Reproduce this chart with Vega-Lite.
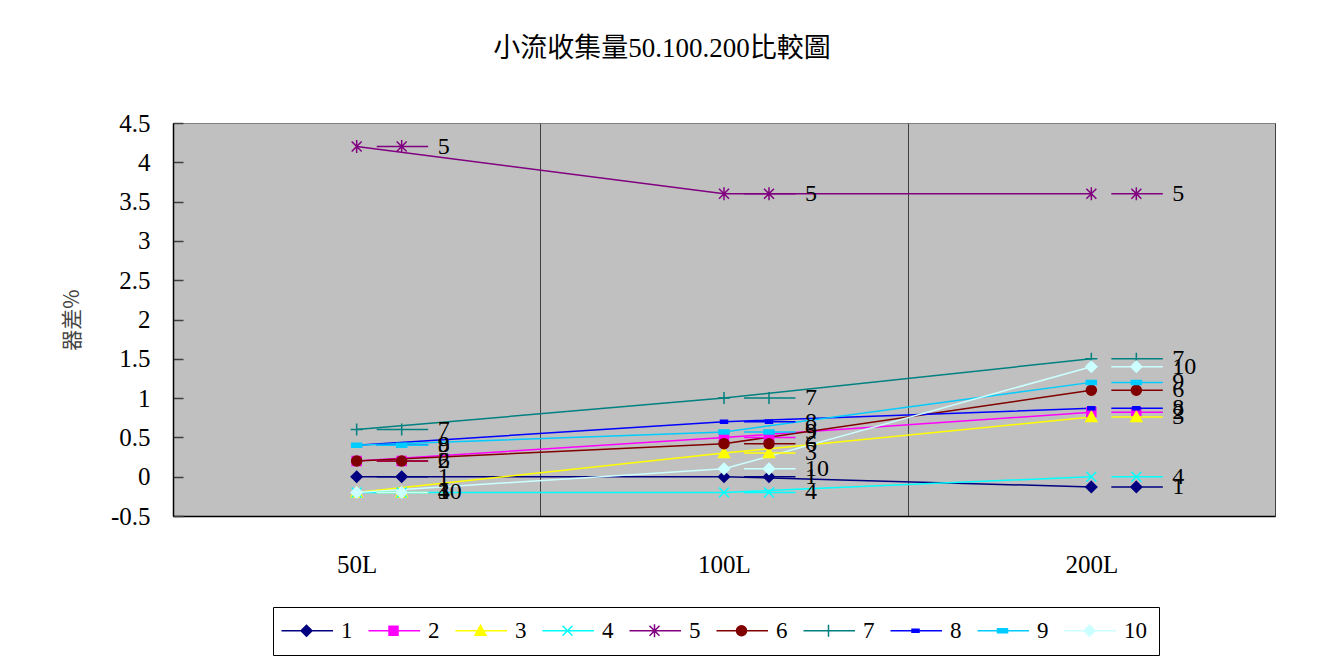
{
  "$schema": "https://vega.github.io/schema/vega-lite/v6.json",
  "width": 1102,
  "height": 393,
  "autosize": {"type": "none"},
  "padding": {"left": 173, "top": 123, "right": 48, "bottom": 147},
  "background": "white",
  "title": {
    "text": "小流收集量50.100.200比較圖",
    "font": "Liberation Serif, Noto Sans CJK TC",
    "fontSize": 27,
    "fontWeight": "normal",
    "color": "black",
    "anchor": "middle",
    "frame": "group",
    "dx": -62,
    "offset": 21,
    "baseline": "bottom"
  },
  "config": {
    "view": {"fill": "#C0C0C0", "stroke": "#808080", "strokeWidth": 1},
    "font": "Liberation Serif"
  },
  "data": {
    "values": [
      {"series": "1", "cat": "50L", "v": 0},
      {"series": "1", "cat": "100L", "v": 0},
      {"series": "1", "cat": "200L", "v": -0.13},
      {"series": "2", "cat": "50L", "v": 0.2},
      {"series": "2", "cat": "100L", "v": 0.5},
      {"series": "2", "cat": "200L", "v": 0.82},
      {"series": "3", "cat": "50L", "v": -0.2},
      {"series": "3", "cat": "100L", "v": 0.3},
      {"series": "3", "cat": "200L", "v": 0.76},
      {"series": "4", "cat": "50L", "v": -0.2},
      {"series": "4", "cat": "100L", "v": -0.2},
      {"series": "4", "cat": "200L", "v": 0},
      {"series": "5", "cat": "50L", "v": 4.2},
      {"series": "5", "cat": "100L", "v": 3.6},
      {"series": "5", "cat": "200L", "v": 3.6},
      {"series": "6", "cat": "50L", "v": 0.2},
      {"series": "6", "cat": "100L", "v": 0.42},
      {"series": "6", "cat": "200L", "v": 1.1},
      {"series": "7", "cat": "50L", "v": 0.6},
      {"series": "7", "cat": "100L", "v": 1.0},
      {"series": "7", "cat": "200L", "v": 1.5},
      {"series": "8", "cat": "50L", "v": 0.4},
      {"series": "8", "cat": "100L", "v": 0.7},
      {"series": "8", "cat": "200L", "v": 0.87},
      {"series": "9", "cat": "50L", "v": 0.4},
      {"series": "9", "cat": "100L", "v": 0.57},
      {"series": "9", "cat": "200L", "v": 1.2},
      {"series": "10", "cat": "50L", "v": -0.2},
      {"series": "10", "cat": "100L", "v": 0.1},
      {"series": "10", "cat": "200L", "v": 1.4}
    ]
  },
  "encoding": {
    "x": {
      "field": "cat",
      "type": "ordinal",
      "sort": ["50L", "100L", "200L"],
      "scale": {"type": "band", "paddingInner": 0, "paddingOuter": 0},
      "axis": {
        "title": null,
        "tickBand": "extent",
        "grid": true,
        "gridColor": "#404040",
        "gridWidth": 1,
        "ticks": false,
        "domainColor": "black",
        "domainWidth": 1.5,
        "labelFont": "Liberation Serif",
        "labelFontSize": 25,
        "labelColor": "black",
        "labelPadding": 36,
        "labelAngle": 0
      }
    },
    "y": {
      "field": "v",
      "type": "quantitative",
      "scale": {"domain": [-0.5, 4.5], "nice": false, "zero": false},
      "axis": {
        "values": [-0.5, 0, 0.5, 1, 1.5, 2, 2.5, 3, 3.5, 4, 4.5],
        "labelExpr": "'' + datum.value",
        "labelFont": "Liberation Serif",
        "labelFontSize": 25,
        "labelColor": "black",
        "labelPadding": 33,
        "tickSize": -10,
        "tickColor": "#404040",
        "tickWidth": 1.5,
        "domainColor": "black",
        "domainWidth": 1.5,
        "grid": false,
        "title": "器差%",
        "titleFont": "Noto Sans CJK TC",
        "titleFontSize": 21,
        "titleFontWeight": "normal",
        "titleColor": "#444444",
        "titleX": -101,
        "titleY": 196.5,
        "titleAlign": "center",
        "titleBaseline": "middle"
      }
    },
    "color": {
      "field": "series",
      "type": "nominal",
      "scale": {
        "domain": ["1", "2", "3", "4", "5", "6", "7", "8", "9", "10"],
        "range": ["#000080", "#FF00FF", "#FFFF00", "#00FFFF", "#800080", "#800000", "#008080", "#0000FF", "#00CCFF", "#CCFFFF"]
      },
      "legend": {
        "orient": "none",
        "legendX": 100,
        "legendY": 484,
        "direction": "horizontal",
        "columns": 10,
        "title": null,
        "padding": 12,
        "strokeColor": "black",
        "fillColor": "white",
        "symbolSize": 100,
        "symbolStrokeWidth": 1.5,
        "symbolOpacity": 1,
        "symbolOffset": 10,
        "labelOffset": 23,
        "columnPadding": 1,
        "gridAlign": "all",
        "labelFont": "Liberation Serif",
        "labelFontSize": 23,
        "labelColor": "black"
      }
    }
  },
  "layer": [
    {
      "mark": {"type": "line", "strokeWidth": 1.5},
      "encoding": {}
    },
    {
      "mark": {"type": "point", "filled": true, "size": 100, "opacity": 1, "strokeWidth": 1.5},
      "encoding": {
        "shape": {
          "condition": [
            {"test": "datum.series == '1' || datum.series == '10'", "value": "M0,-1.1L1.1,0L0,1.1L-1.1,0Z"},
            {"test": "datum.series == '2'", "value": "M-0.9,-0.9L0.9,-0.9L0.9,0.9L-0.9,0.9Z"},
            {"test": "datum.series == '3'", "value": "M0,-1.1L1.1,0.9L-1.1,0.9Z"},
            {"test": "datum.series == '4'", "value": "M-1,-1L1,1M-1,1L1,-1"},
            {"test": "datum.series == '5'", "value": "M-1,-1L1,1M-1,1L1,-1M0,-1.3L0,1.3"},
            {"test": "datum.series == '6'", "value": "M-1,0A1,1,0,1,1,1,0A1,1,0,1,1,-1,0Z"},
            {"test": "datum.series == '7'", "value": "M-1.2,0L1.2,0M0,-1.2L0,1.2"},
            {"test": "datum.series == '8'", "value": "M-0.7,-0.3L0.7,-0.3L0.7,0.3L-0.7,0.3Z"}
          ],
          "value": "M-1,-0.4L1,-0.4L1,0.4L-1,0.4Z"
        },
        "stroke": {
          "field": "series",
          "type": "nominal",
          "scale": {
            "domain": ["1", "2", "3", "4", "5", "6", "7", "8", "9", "10"],
            "range": ["#000080", "#FF00FF", "#FFFF00", "#00FFFF", "#800080", "#800000", "#008080", "#0000FF", "#00CCFF", "#CCFFFF"]
          },
          "legend": null
        }
      }
    },
    {
      "mark": {"type": "point", "filled": true, "size": 100, "opacity": 1, "strokeWidth": 1.5, "xOffset": 45},
      "encoding": {
        "shape": {
          "field": "series",
          "type": "nominal",
          "scale": {
            "domain": ["1", "2", "3", "4", "5", "6", "7", "8", "9", "10"],
            "range": [
              "M-5,0L5.3,0M0,-1.1L1.1,0L0,1.1L-1.1,0Z",
              "M-5,0L5.3,0M-0.9,-0.9L0.9,-0.9L0.9,0.9L-0.9,0.9Z",
              "M-5,0L5.3,0M0,-1.1L1.1,0.9L-1.1,0.9Z",
              "M-5,0L5.3,0M-1,-1L1,1M-1,1L1,-1",
              "M-5,0L5.3,0M-1,-1L1,1M-1,1L1,-1M0,-1.3L0,1.3",
              "M-5,0L5.3,0M-1,0A1,1,0,1,1,1,0A1,1,0,1,1,-1,0Z",
              "M-5,0L5.3,0M-1.2,0L1.2,0M0,-1.2L0,1.2",
              "M-5,0L5.3,0M-0.7,-0.3L0.7,-0.3L0.7,0.3L-0.7,0.3Z",
              "M-5,0L5.3,0M-1,-0.4L1,-0.4L1,0.4L-1,0.4Z",
              "M-5,0L5.3,0M0,-1.1L1.1,0L0,1.1L-1.1,0Z"
            ]
          },
          "legend": null
        },
        "stroke": {"field": "series", "type": "nominal", "legend": null}
      }
    },
    {
      "mark": {"type": "text", "align": "left", "baseline": "middle", "xOffset": 81, "fontSize": 24, "font": "Liberation Serif"},
      "encoding": {
        "text": {"field": "series"},
        "color": {"value": "black"}
      }
    }
  ]
}
